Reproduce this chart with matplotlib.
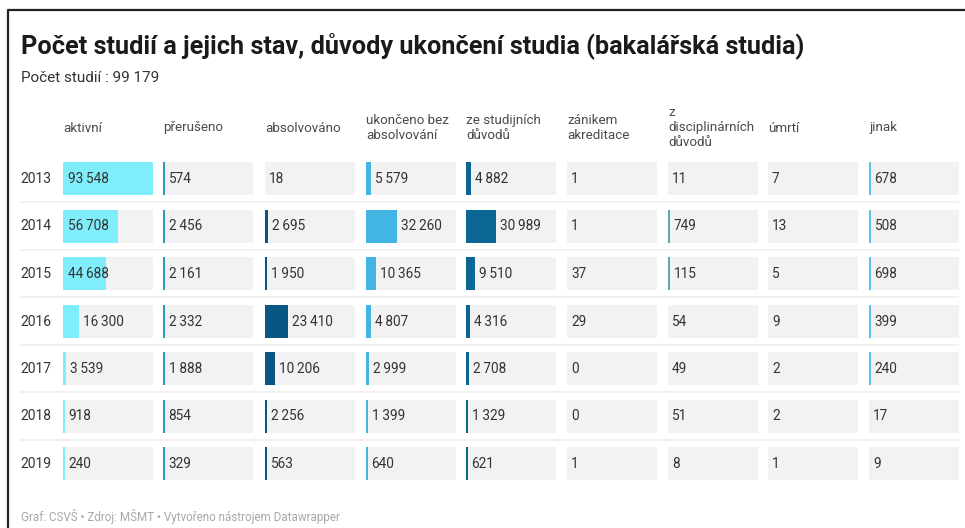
import matplotlib.pyplot as plt
import numpy as np

plt.rcParams['font.family'] = ['Roboto', 'DejaVu Sans']

years = ['2013', '2014', '2015', '2016', '2017', '2018', '2019']
columns = ['aktivní', 'přerušeno', 'absolvováno', 'ukončeno bez\nabsolvování',
           'ze studijních\ndůvodů', 'zánikem\nakreditace', 'z\ndisciplinárních\ndůvodů',
           'úmrtí', 'jinak']

aktivni = [93548, 56708, 44688, 16300, 3539, 918, 240]
preruseno = [574, 2456, 2161, 2332, 1888, 854, 329]
absolvovano = [18, 2695, 1950, 23410, 10206, 2256, 563]
ukonceno_bez = [5579, 32260, 10365, 4807, 2999, 1399, 640]
ze_studijnich = [4882, 30989, 9510, 4316, 2708, 1329, 621]
zanikem = [1, 1, 37, 29, 0, 0, 1]
disciplinarni = [11, 749, 115, 54, 49, 51, 8]
umrti = [7, 13, 5, 9, 2, 2, 1]
jinak = [678, 508, 698, 399, 240, 17, 9]

values = [aktivni, preruseno, absolvovano, ukonceno_bez, ze_studijnich,
          zanikem, disciplinarni, umrti, jinak]
bar_colors = ['#80edfb', '#2c9cb3', '#0a5683', '#42b5e2', '#0b6595',
              '#1f8fb5', '#5aa7b7', '#7fa8b8', '#5ec0e8']

total = '99 179'

def fmt(v):
    s = f'{v:,}'
    return s.replace(',', '\u2009')

W, H = 965, 528
fig = plt.figure(figsize=(W / 100, H / 100), dpi=100)
ax = fig.add_axes([0, 0, 1, 1])
ax.set_xlim(0, W)
ax.set_ylim(H, 0)
ax.axis('off')

# outer frame (top and left edge only)
ax.plot([8, 8, W], [H, 10, 10], color='#222222', lw=1.6, solid_capstyle='butt')

ax.text(21, 46, 'Počet studií a jejich stav, důvody ukončení studia (bakalářská studia)',
        fontsize=18.2, fontweight='bold', color='#1a1a1a', va='center', ha='left')
ax.text(21, 78, f'Počet studií : {total}', fontsize=11, color='#333333', va='center')

col_x = np.array([63, 163, 265, 366, 466, 567, 668, 768, 869])
cell_w = 90
row_y = 178.5 + 47.5 * np.arange(len(years))
cell_h = 33
vmax = max(max(v) for v in values)

for cx, name in zip(col_x, columns):
    ax.text(cx, 128, name, fontsize=9.6, color='#4a4a4a', va='center', ha='left',
            linespacing=1.2)

for y in row_y[:-1] + 23.5:
    ax.plot([20, 958], [y, y], color='#efefef', lw=1.2)

for yr, ry in zip(years, row_y):
    ax.text(20, ry + 0.5, yr, fontsize=10, color='#333333', va='center', ha='left')

for cx, vals, c in zip(col_x, values, bar_colors):
    ax.barh(row_y, cell_w, height=cell_h, left=cx, color='#f2f2f2', lw=0)
    for ry, v in zip(row_y, vals):
        w = v / vmax * cell_w
        if v >= 100:
            w = max(w, 1.6)
        if w > 0.5:
            ax.barh(ry, w, height=cell_h, left=cx, color=c, lw=0)
        if v / vmax >= 0.4:
            tx = cx + 5
        else:
            tx = cx + (w if w > 0.5 else 0) + 4
        ax.text(tx, ry + 0.5, fmt(v), fontsize=9.8, color='#333333', va='center', ha='left')

ax.text(21, 516, 'Graf: CSVŠ • Zdroj: MŠMT • Vytvořeno nástrojem Datawrapper',
        fontsize=8.4, color='#a8a8a8', va='center', ha='left')

fig.savefig('out.png', dpi=100, facecolor='white')
